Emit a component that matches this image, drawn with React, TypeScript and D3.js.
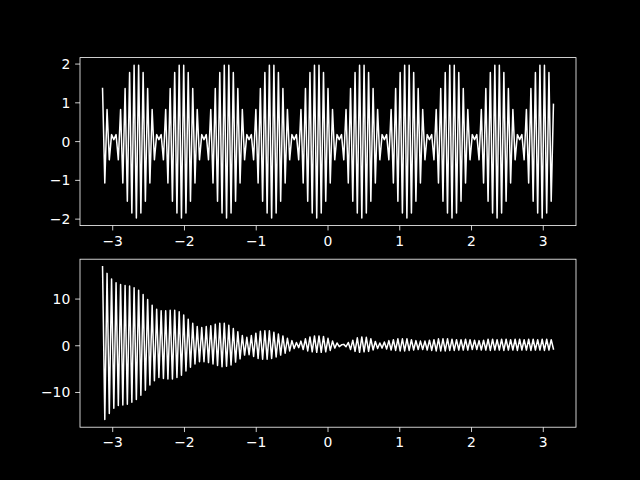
import React, { useEffect } from 'react';
import * as d3 from 'd3';

// sampled on an even grid from -pi to pi (201 samples)
const X_START = -Math.PI;
const X_END = Math.PI;

// upper panel: beating signal, read spike by spike
const topValues: number[] = [
  1.37, -1.07, 0.83, -0.47, 0.18,
  0.05, 0.18, -0.47, 0.83, -1.07, 1.37, -1.54, 1.78, -1.84, 1.97, -1.97, 1.97, -1.84, 1.78, -1.54, 1.37, -1.07, 0.83, -0.47, 0.18,
  0.05, 0.18, -0.47, 0.83, -1.07, 1.37, -1.54, 1.78, -1.84, 1.97, -1.97, 1.97, -1.84, 1.78, -1.54, 1.37, -1.07, 0.83, -0.47, 0.18,
  0.05, 0.18, -0.47, 0.83, -1.07, 1.37, -1.54, 1.78, -1.84, 1.97, -1.97, 1.97, -1.84, 1.78, -1.54, 1.37, -1.07, 0.83, -0.47, 0.18,
  0.05, 0.18, -0.47, 0.83, -1.07, 1.37, -1.54, 1.78, -1.84, 1.97, -1.97, 1.97, -1.84, 1.78, -1.54, 1.37, -1.07, 0.83, -0.47, 0.18,
  0.05, 0.18, -0.47, 0.83, -1.07, 1.37, -1.54, 1.78, -1.84, 1.97, -1.97, 1.97, -1.84, 1.78, -1.54, 1.37, -1.07, 0.83, -0.47, 0.18,
  0.05, 0.18, -0.47, 0.83, -1.07, 1.37, -1.54, 1.78, -1.84, 1.97, -1.97, 1.97, -1.84, 1.78, -1.54, 1.37, -1.07, 0.83, -0.47, 0.18,
  0.05, 0.18, -0.47, 0.83, -1.07, 1.37, -1.54, 1.78, -1.84, 1.97, -1.97, 1.97, -1.84, 1.78, -1.54, 1.37, -1.07, 0.83, -0.47, 0.18,
  0.05, 0.18, -0.47, 0.83, -1.07, 1.37, -1.54, 1.78, -1.84, 1.97, -1.97, 1.97, -1.84, 1.78, -1.54, 1.37, -1.07, 0.83, -0.47, 0.18,
  0.05, 0.18, -0.47, 0.83, -1.07, 1.37, -1.54, 1.78, -1.84, 1.97, -1.97, 1.97, -1.84, 1.78, -1.54, 1.37, -1.07, 0.83, -0.47, 0.18,
  0.05, 0.18, -0.47, 0.83, -1.07, 1.37, -1.54, 1.78, -1.84, 1.97, -1.97, 1.97, -1.84, 1.78, -1.54, 0.96,
];

// lower panel: decaying signal
const bottomValues: number[] = [
  16.9, -15.8, 15.5, -14.5, 14.3, -13.4, 13.5, -12.8, 13.1, -12.7,
  12.9, -12.5, 12.8, -12.1, 12.4, -11.5, 11.9, -10.6, 11.0, -9.5,
  9.9, -8.4, 8.7, -7.5, 7.8, -6.8, 7.5, -7.0, 7.5, -7.1,
  7.6, -7.1, 7.6, -6.8, 7.3, -6.3, 6.6, -5.4, 5.7, -4.6,
  4.8, -3.9, 4.1, -3.4, 3.9, -3.4, 4.1, -3.6, 4.3, -3.9,
  4.6, -4.2, 4.8, -4.5, 4.8, -4.4, 4.4, -4.1, 3.7, -3.5,
  3.0, -2.8, 2.2, -2.0, 1.8, -1.9, 2.2, -2.3, 2.7, -2.7,
  3.1, -2.9, 3.2, -2.9, 3.2, -2.7, 2.9, -2.4, 2.5, -2.0,
  2.1, -1.6, 1.6, -1.1, 1.1, -0.6, 0.7, -0.4, 1.0, -0.8,
  1.5, -1.1, 1.9, -1.3, 2.1, -1.4, 2.1, -1.4, 2.0, -1.3,
  1.6, -1.0, 1.0, -0.5, 0.6, -0.2, 0.2, 0.3, -0.2, 0.7,
  -0.8, 1.2, -1.2, 1.7, -1.4, 1.9, -1.3, 1.8, -1.2, 1.5,
  -0.9, 0.9, -0.6, 0.6, -0.5, 0.8, -0.7, 1.1, -0.9, 1.3,
  -1.0, 1.5, -1.1, 1.5, -1.1, 1.5, -1.0, 1.3, -0.9, 1.1,
  -0.8, 1.0, -0.8, 1.0, -0.9, 1.2, -1.0, 1.3, -1.1, 1.5,
  -1.1, 1.5, -1.1, 1.5, -1.0, 1.4, -1.0, 1.3, -0.9, 1.3,
  -0.9, 1.4, -0.9, 1.3, -0.8, 1.2, -0.8, 1.1, -0.9, 1.2,
  -0.9, 1.4, -1.0, 1.4, -0.9, 1.3, -0.9, 1.4, -1.0, 1.4,
  -0.9, 1.3, -0.9, 1.4, -1.0, 1.4, -0.9, 1.3, -0.9, 1.4,
  -1.0, 1.4, -0.9, 1.3, -0.9, 1.4, -1.0, 1.4, -0.9, 1.3,
  -0.7,
];

const xTicks = [-3, -2, -1, 0, 1, 2, 3];
const topYTicks = [-2, -1, 0, 1, 2];
const bottomYTicks = [-10, 0, 10];

const W = 640;
const H = 480;
const FONT = 'DejaVu Sans, sans-serif';
const TICK = 4.86;
const PAD = 4.86;

const fmt = (v: number) => (v < 0 ? '\u2212' + Math.abs(v) : String(v));

interface PanelProps {
  values: number[];
  yTicks: number[];
  top: number;
  bottom: number;
}

const Panel: React.FC<PanelProps> = ({ values, yTicks, top, bottom }) => {
  const left = 80;
  const right = 576;
  const n = values.length;
  const xs = values.map((_, i) => X_START + (i * (X_END - X_START)) / (n - 1));

  const xSpan = X_END - X_START;
  const x = d3.scaleLinear()
    .domain([X_START - 0.05 * xSpan, X_END + 0.05 * xSpan])
    .range([left, right]);

  const [lo, hi] = d3.extent(values) as [number, number];
  const ySpan = hi - lo;
  const y = d3.scaleLinear()
    .domain([lo - 0.05 * ySpan, hi + 0.05 * ySpan])
    .range([bottom, top]);

  const line = d3.line<number>()
    .x((_, i) => x(xs[i]))
    .y(d => y(d));

  return (
    <g>
      <path d={line(values) || ''} fill="none" stroke="#ffffff" strokeWidth={1.5}
        strokeLinejoin="round" strokeLinecap="square" />
      <rect x={left} y={top} width={right - left} height={bottom - top}
        fill="none" stroke="#ffffff" strokeWidth={0.8} />
      {xTicks.map(t => (
        <g key={'x' + t}>
          <line x1={x(t)} x2={x(t)} y1={bottom} y2={bottom + TICK} stroke="#ffffff" strokeWidth={0.8} />
          <text x={x(t)} y={bottom + TICK + PAD} dy="0.76em" textAnchor="middle"
            fill="#ffffff" fontSize={13.9} fontFamily={FONT}>{fmt(t)}</text>
        </g>
      ))}
      {yTicks.map(t => (
        <g key={'y' + t}>
          <line x1={left - TICK} x2={left} y1={y(t)} y2={y(t)} stroke="#ffffff" strokeWidth={0.8} />
          <text x={left - TICK - PAD} y={y(t)} dy="0.36em" textAnchor="end"
            fill="#ffffff" fontSize={13.9} fontFamily={FONT}>{fmt(t)}</text>
        </g>
      ))}
    </g>
  );
};

const App: React.FC = () => {
  useEffect(() => {
    document.body.style.margin = '0';
    document.body.style.background = '#000000';
  }, []);

  return (
    <svg width={W} height={H} style={{ display: 'block', background: '#000000' }}>
      <rect x={0} y={0} width={W} height={H} fill="#000000" />
      <Panel values={topValues} yTicks={topYTicks} top={57.6} bottom={225.6} />
      <Panel values={bottomValues} yTicks={bottomYTicks} top={259.2} bottom={427.2} />
    </svg>
  );
};

export default App;
